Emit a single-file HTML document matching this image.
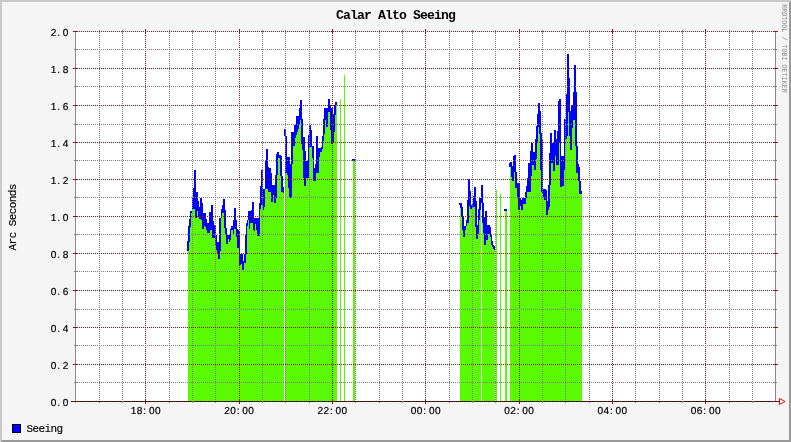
<!DOCTYPE html>
<html><head><meta charset="utf-8"><title>Calar Alto Seeing</title>
<style>
html,body{margin:0;padding:0;background:#F5F5F5;}
body{width:791px;height:442px;overflow:hidden;font-family:"Liberation Mono",monospace;}
svg{display:block;will-change:transform;}
text{font-family:"Liberation Mono",monospace;}
</style></head><body>
<svg width="791" height="442" viewBox="0 0 791 442">
<rect x="0" y="0" width="791" height="442" fill="#F5F5F5"/>
<polygon points="0,0 791,0 789,2 2,2 2,440 0,442" fill="#C9C9C9" shape-rendering="crispEdges"/>
<polygon points="791,0 791,442 0,442 2,440 789,440 789,2" fill="#999999" shape-rendering="crispEdges"/>
<rect x="75" y="31" width="701" height="371" fill="#FFFFFF" shape-rendering="crispEdges"/>
<g shape-rendering="crispEdges">
<rect fill="#5AFA00" x="188" y="251" width="1" height="151"/>
<rect fill="#5AFA00" x="189" y="242" width="1" height="160"/>
<rect fill="#5AFA00" x="190" y="227" width="1" height="175"/>
<rect fill="#5AFA00" x="191" y="213" width="1" height="189"/>
<rect fill="#5AFA00" x="192" y="210" width="1" height="192"/>
<rect fill="#5AFA00" x="193" y="209" width="1" height="193"/>
<rect fill="#5AFA00" x="194" y="209" width="1" height="193"/>
<rect fill="#5AFA00" x="195" y="218" width="1" height="184"/>
<rect fill="#5AFA00" x="196" y="218" width="1" height="184"/>
<rect fill="#5AFA00" x="197" y="211" width="1" height="191"/>
<rect fill="#5AFA00" x="198" y="217" width="1" height="185"/>
<rect fill="#5AFA00" x="199" y="219" width="1" height="183"/>
<rect fill="#5AFA00" x="200" y="219" width="1" height="183"/>
<rect fill="#5AFA00" x="201" y="220" width="1" height="182"/>
<rect fill="#5AFA00" x="202" y="229" width="1" height="173"/>
<rect fill="#5AFA00" x="203" y="229" width="1" height="173"/>
<rect fill="#5AFA00" x="204" y="226" width="1" height="176"/>
<rect fill="#5AFA00" x="205" y="227" width="1" height="175"/>
<rect fill="#5AFA00" x="206" y="230" width="1" height="172"/>
<rect fill="#5AFA00" x="207" y="233" width="1" height="169"/>
<rect fill="#5AFA00" x="208" y="233" width="1" height="169"/>
<rect fill="#5AFA00" x="209" y="233" width="1" height="169"/>
<rect fill="#5AFA00" x="210" y="230" width="1" height="172"/>
<rect fill="#5AFA00" x="211" y="230" width="1" height="172"/>
<rect fill="#5AFA00" x="212" y="238" width="1" height="164"/>
<rect fill="#5AFA00" x="213" y="238" width="1" height="164"/>
<rect fill="#5AFA00" x="214" y="238" width="1" height="164"/>
<rect fill="#5AFA00" x="215" y="246" width="1" height="156"/>
<rect fill="#5AFA00" x="216" y="250" width="1" height="152"/>
<rect fill="#5AFA00" x="217" y="253" width="1" height="149"/>
<rect fill="#5AFA00" x="218" y="259" width="1" height="143"/>
<rect fill="#5AFA00" x="219" y="259" width="1" height="143"/>
<rect fill="#5AFA00" x="220" y="251" width="1" height="151"/>
<rect fill="#5AFA00" x="221" y="218" width="1" height="184"/>
<rect fill="#5AFA00" x="222" y="213" width="1" height="189"/>
<rect fill="#5AFA00" x="223" y="213" width="1" height="189"/>
<rect fill="#5AFA00" x="224" y="228" width="1" height="174"/>
<rect fill="#5AFA00" x="225" y="235" width="1" height="167"/>
<rect fill="#5AFA00" x="226" y="244" width="1" height="158"/>
<rect fill="#5AFA00" x="227" y="244" width="1" height="158"/>
<rect fill="#5AFA00" x="228" y="239" width="1" height="163"/>
<rect fill="#5AFA00" x="229" y="242" width="1" height="160"/>
<rect fill="#5AFA00" x="230" y="240" width="1" height="162"/>
<rect fill="#5AFA00" x="231" y="230" width="1" height="172"/>
<rect fill="#5AFA00" x="232" y="230" width="1" height="172"/>
<rect fill="#5AFA00" x="233" y="234" width="1" height="168"/>
<rect fill="#5AFA00" x="234" y="229" width="1" height="173"/>
<rect fill="#5AFA00" x="235" y="229" width="1" height="173"/>
<rect fill="#5AFA00" x="236" y="237" width="1" height="165"/>
<rect fill="#5AFA00" x="237" y="248" width="1" height="154"/>
<rect fill="#5AFA00" x="238" y="248" width="1" height="154"/>
<rect fill="#5AFA00" x="239" y="265" width="1" height="137"/>
<rect fill="#5AFA00" x="240" y="265" width="1" height="137"/>
<rect fill="#5AFA00" x="241" y="264" width="1" height="138"/>
<rect fill="#5AFA00" x="242" y="270" width="1" height="132"/>
<rect fill="#5AFA00" x="243" y="270" width="1" height="132"/>
<rect fill="#5AFA00" x="244" y="263" width="1" height="139"/>
<rect fill="#5AFA00" x="245" y="263" width="1" height="139"/>
<rect fill="#5AFA00" x="246" y="254" width="1" height="148"/>
<rect fill="#5AFA00" x="247" y="226" width="1" height="176"/>
<rect fill="#5AFA00" x="248" y="220" width="1" height="182"/>
<rect fill="#5AFA00" x="249" y="229" width="1" height="173"/>
<rect fill="#5AFA00" x="250" y="223" width="1" height="179"/>
<rect fill="#5AFA00" x="251" y="223" width="1" height="179"/>
<rect fill="#5AFA00" x="252" y="223" width="1" height="179"/>
<rect fill="#5AFA00" x="253" y="230" width="1" height="172"/>
<rect fill="#5AFA00" x="254" y="231" width="1" height="171"/>
<rect fill="#5AFA00" x="255" y="224" width="1" height="178"/>
<rect fill="#5AFA00" x="256" y="230" width="1" height="172"/>
<rect fill="#5AFA00" x="257" y="236" width="1" height="166"/>
<rect fill="#5AFA00" x="258" y="236" width="1" height="166"/>
<rect fill="#5AFA00" x="259" y="236" width="1" height="166"/>
<rect fill="#5AFA00" x="260" y="209" width="1" height="193"/>
<rect fill="#5AFA00" x="261" y="205" width="1" height="197"/>
<rect fill="#5AFA00" x="262" y="205" width="1" height="197"/>
<rect fill="#5AFA00" x="263" y="210" width="1" height="192"/>
<rect fill="#5AFA00" x="264" y="207" width="1" height="195"/>
<rect fill="#5AFA00" x="265" y="189" width="1" height="213"/>
<rect fill="#5AFA00" x="266" y="189" width="1" height="213"/>
<rect fill="#5AFA00" x="267" y="189" width="1" height="213"/>
<rect fill="#5AFA00" x="268" y="192" width="1" height="210"/>
<rect fill="#5AFA00" x="269" y="192" width="1" height="210"/>
<rect fill="#5AFA00" x="270" y="192" width="1" height="210"/>
<rect fill="#5AFA00" x="271" y="202" width="1" height="200"/>
<rect fill="#5AFA00" x="272" y="202" width="1" height="200"/>
<rect fill="#5AFA00" x="273" y="195" width="1" height="207"/>
<rect fill="#5AFA00" x="274" y="203" width="1" height="199"/>
<rect fill="#5AFA00" x="275" y="203" width="1" height="199"/>
<rect fill="#5AFA00" x="276" y="198" width="1" height="204"/>
<rect fill="#5AFA00" x="277" y="175" width="1" height="227"/>
<rect fill="#5AFA00" x="278" y="158" width="1" height="244"/>
<rect fill="#5AFA00" x="279" y="158" width="1" height="244"/>
<rect fill="#5AFA00" x="280" y="176" width="1" height="226"/>
<rect fill="#5AFA00" x="281" y="192" width="1" height="210"/>
<rect fill="#5AFA00" x="282" y="192" width="1" height="210"/>
<rect fill="#5AFA00" x="283" y="193" width="1" height="209"/>
<rect fill="#5AFA00" x="285" y="173" width="1" height="229"/>
<rect fill="#5AFA00" x="286" y="173" width="1" height="229"/>
<rect fill="#5AFA00" x="287" y="175" width="1" height="227"/>
<rect fill="#5AFA00" x="288" y="188" width="1" height="214"/>
<rect fill="#5AFA00" x="289" y="198" width="1" height="204"/>
<rect fill="#5AFA00" x="290" y="198" width="1" height="204"/>
<rect fill="#5AFA00" x="291" y="198" width="1" height="204"/>
<rect fill="#5AFA00" x="292" y="164" width="1" height="238"/>
<rect fill="#5AFA00" x="293" y="146" width="1" height="256"/>
<rect fill="#5AFA00" x="294" y="146" width="1" height="256"/>
<rect fill="#5AFA00" x="295" y="138" width="1" height="264"/>
<rect fill="#5AFA00" x="296" y="135" width="1" height="267"/>
<rect fill="#5AFA00" x="297" y="132" width="1" height="270"/>
<rect fill="#5AFA00" x="298" y="129" width="1" height="273"/>
<rect fill="#5AFA00" x="299" y="125" width="1" height="277"/>
<rect fill="#5AFA00" x="300" y="120" width="1" height="282"/>
<rect fill="#5AFA00" x="301" y="144" width="1" height="258"/>
<rect fill="#5AFA00" x="302" y="150" width="1" height="252"/>
<rect fill="#5AFA00" x="303" y="178" width="1" height="224"/>
<rect fill="#5AFA00" x="304" y="186" width="1" height="216"/>
<rect fill="#5AFA00" x="305" y="186" width="1" height="216"/>
<rect fill="#5AFA00" x="306" y="178" width="1" height="224"/>
<rect fill="#5AFA00" x="307" y="178" width="1" height="224"/>
<rect fill="#5AFA00" x="308" y="178" width="1" height="224"/>
<rect fill="#5AFA00" x="309" y="147" width="1" height="255"/>
<rect fill="#5AFA00" x="310" y="147" width="1" height="255"/>
<rect fill="#5AFA00" x="311" y="147" width="1" height="255"/>
<rect fill="#5AFA00" x="312" y="158" width="1" height="244"/>
<rect fill="#5AFA00" x="313" y="181" width="1" height="221"/>
<rect fill="#5AFA00" x="314" y="181" width="1" height="221"/>
<rect fill="#5AFA00" x="315" y="181" width="1" height="221"/>
<rect fill="#5AFA00" x="316" y="173" width="1" height="229"/>
<rect fill="#5AFA00" x="317" y="173" width="1" height="229"/>
<rect fill="#5AFA00" x="318" y="173" width="1" height="229"/>
<rect fill="#5AFA00" x="319" y="157" width="1" height="245"/>
<rect fill="#5AFA00" x="320" y="152" width="1" height="250"/>
<rect fill="#5AFA00" x="321" y="152" width="1" height="250"/>
<rect fill="#5AFA00" x="322" y="149" width="1" height="253"/>
<rect fill="#5AFA00" x="323" y="141" width="1" height="261"/>
<rect fill="#5AFA00" x="324" y="134" width="1" height="268"/>
<rect fill="#5AFA00" x="325" y="120" width="1" height="282"/>
<rect fill="#5AFA00" x="326" y="127" width="1" height="275"/>
<rect fill="#5AFA00" x="327" y="127" width="1" height="275"/>
<rect fill="#5AFA00" x="328" y="112" width="1" height="290"/>
<rect fill="#5AFA00" x="329" y="112" width="1" height="290"/>
<rect fill="#5AFA00" x="330" y="130" width="1" height="272"/>
<rect fill="#5AFA00" x="331" y="144" width="1" height="258"/>
<rect fill="#5AFA00" x="332" y="143" width="1" height="259"/>
<rect fill="#5AFA00" x="333" y="142" width="1" height="260"/>
<rect fill="#5AFA00" x="334" y="132" width="1" height="270"/>
<rect fill="#5AFA00" x="335" y="115" width="1" height="287"/>
<rect fill="#5AFA00" x="336" y="105" width="1" height="297"/>
<rect fill="#5AFA00" x="353" y="161" width="1" height="241"/>
<rect fill="#5AFA00" x="354" y="161" width="1" height="241"/>
<rect fill="#5AFA00" x="460" y="208" width="1" height="194"/>
<rect fill="#5AFA00" x="461" y="217" width="1" height="185"/>
<rect fill="#5AFA00" x="462" y="230" width="1" height="172"/>
<rect fill="#5AFA00" x="463" y="237" width="1" height="165"/>
<rect fill="#5AFA00" x="464" y="237" width="1" height="165"/>
<rect fill="#5AFA00" x="465" y="230" width="1" height="172"/>
<rect fill="#5AFA00" x="466" y="226" width="1" height="176"/>
<rect fill="#5AFA00" x="467" y="223" width="1" height="179"/>
<rect fill="#5AFA00" x="468" y="223" width="1" height="179"/>
<rect fill="#5AFA00" x="469" y="206" width="1" height="196"/>
<rect fill="#5AFA00" x="470" y="209" width="1" height="193"/>
<rect fill="#5AFA00" x="471" y="209" width="1" height="193"/>
<rect fill="#5AFA00" x="472" y="207" width="1" height="195"/>
<rect fill="#5AFA00" x="473" y="207" width="1" height="195"/>
<rect fill="#5AFA00" x="474" y="207" width="1" height="195"/>
<rect fill="#5AFA00" x="475" y="227" width="1" height="175"/>
<rect fill="#5AFA00" x="476" y="239" width="1" height="163"/>
<rect fill="#5AFA00" x="477" y="239" width="1" height="163"/>
<rect fill="#5AFA00" x="478" y="234" width="1" height="168"/>
<rect fill="#5AFA00" x="479" y="220" width="1" height="182"/>
<rect fill="#5AFA00" x="480" y="210" width="1" height="192"/>
<rect fill="#5AFA00" x="482" y="223" width="1" height="179"/>
<rect fill="#5AFA00" x="483" y="233" width="1" height="169"/>
<rect fill="#5AFA00" x="484" y="245" width="1" height="157"/>
<rect fill="#5AFA00" x="485" y="245" width="1" height="157"/>
<rect fill="#5AFA00" x="486" y="240" width="1" height="162"/>
<rect fill="#5AFA00" x="487" y="240" width="1" height="162"/>
<rect fill="#5AFA00" x="488" y="234" width="1" height="168"/>
<rect fill="#5AFA00" x="489" y="234" width="1" height="168"/>
<rect fill="#5AFA00" x="490" y="237" width="1" height="165"/>
<rect fill="#5AFA00" x="491" y="245" width="1" height="157"/>
<rect fill="#5AFA00" x="492" y="247" width="1" height="155"/>
<rect fill="#5AFA00" x="493" y="249" width="1" height="153"/>
<rect fill="#5AFA00" x="494" y="250" width="1" height="152"/>
<rect fill="#5AFA00" x="505" y="211" width="1" height="191"/>
<rect fill="#5AFA00" x="506" y="211" width="1" height="191"/>
<rect fill="#5AFA00" x="510" y="167" width="1" height="235"/>
<rect fill="#5AFA00" x="511" y="177" width="1" height="225"/>
<rect fill="#5AFA00" x="512" y="181" width="1" height="221"/>
<rect fill="#5AFA00" x="513" y="181" width="1" height="221"/>
<rect fill="#5AFA00" x="514" y="172" width="1" height="230"/>
<rect fill="#5AFA00" x="515" y="188" width="1" height="214"/>
<rect fill="#5AFA00" x="516" y="188" width="1" height="214"/>
<rect fill="#5AFA00" x="517" y="197" width="1" height="205"/>
<rect fill="#5AFA00" x="518" y="210" width="1" height="192"/>
<rect fill="#5AFA00" x="519" y="210" width="1" height="192"/>
<rect fill="#5AFA00" x="520" y="206" width="1" height="196"/>
<rect fill="#5AFA00" x="521" y="210" width="1" height="192"/>
<rect fill="#5AFA00" x="522" y="210" width="1" height="192"/>
<rect fill="#5AFA00" x="523" y="204" width="1" height="198"/>
<rect fill="#5AFA00" x="524" y="204" width="1" height="198"/>
<rect fill="#5AFA00" x="525" y="204" width="1" height="198"/>
<rect fill="#5AFA00" x="526" y="198" width="1" height="204"/>
<rect fill="#5AFA00" x="527" y="192" width="1" height="210"/>
<rect fill="#5AFA00" x="528" y="192" width="1" height="210"/>
<rect fill="#5AFA00" x="529" y="192" width="1" height="210"/>
<rect fill="#5AFA00" x="530" y="192" width="1" height="210"/>
<rect fill="#5AFA00" x="531" y="176" width="1" height="226"/>
<rect fill="#5AFA00" x="532" y="165" width="1" height="237"/>
<rect fill="#5AFA00" x="533" y="165" width="1" height="237"/>
<rect fill="#5AFA00" x="534" y="170" width="1" height="232"/>
<rect fill="#5AFA00" x="535" y="170" width="1" height="232"/>
<rect fill="#5AFA00" x="536" y="159" width="1" height="243"/>
<rect fill="#5AFA00" x="537" y="142" width="1" height="260"/>
<rect fill="#5AFA00" x="538" y="127" width="1" height="275"/>
<rect fill="#5AFA00" x="539" y="134" width="1" height="268"/>
<rect fill="#5AFA00" x="540" y="170" width="1" height="232"/>
<rect fill="#5AFA00" x="541" y="192" width="1" height="210"/>
<rect fill="#5AFA00" x="542" y="193" width="1" height="209"/>
<rect fill="#5AFA00" x="543" y="197" width="1" height="205"/>
<rect fill="#5AFA00" x="544" y="200" width="1" height="202"/>
<rect fill="#5AFA00" x="545" y="200" width="1" height="202"/>
<rect fill="#5AFA00" x="546" y="215" width="1" height="187"/>
<rect fill="#5AFA00" x="547" y="215" width="1" height="187"/>
<rect fill="#5AFA00" x="548" y="210" width="1" height="192"/>
<rect fill="#5AFA00" x="549" y="207" width="1" height="195"/>
<rect fill="#5AFA00" x="550" y="185" width="1" height="217"/>
<rect fill="#5AFA00" x="551" y="163" width="1" height="239"/>
<rect fill="#5AFA00" x="552" y="163" width="1" height="239"/>
<rect fill="#5AFA00" x="553" y="171" width="1" height="231"/>
<rect fill="#5AFA00" x="554" y="171" width="1" height="231"/>
<rect fill="#5AFA00" x="555" y="156" width="1" height="246"/>
<rect fill="#5AFA00" x="556" y="165" width="1" height="237"/>
<rect fill="#5AFA00" x="557" y="165" width="1" height="237"/>
<rect fill="#5AFA00" x="558" y="165" width="1" height="237"/>
<rect fill="#5AFA00" x="559" y="143" width="1" height="259"/>
<rect fill="#5AFA00" x="560" y="187" width="1" height="215"/>
<rect fill="#5AFA00" x="561" y="187" width="1" height="215"/>
<rect fill="#5AFA00" x="562" y="186" width="1" height="216"/>
<rect fill="#5AFA00" x="563" y="186" width="1" height="216"/>
<rect fill="#5AFA00" x="564" y="170" width="1" height="232"/>
<rect fill="#5AFA00" x="565" y="139" width="1" height="263"/>
<rect fill="#5AFA00" x="566" y="139" width="1" height="263"/>
<rect fill="#5AFA00" x="567" y="136" width="1" height="266"/>
<rect fill="#5AFA00" x="568" y="112" width="1" height="290"/>
<rect fill="#5AFA00" x="569" y="136" width="1" height="266"/>
<rect fill="#5AFA00" x="570" y="150" width="1" height="252"/>
<rect fill="#5AFA00" x="571" y="150" width="1" height="252"/>
<rect fill="#5AFA00" x="572" y="128" width="1" height="274"/>
<rect fill="#5AFA00" x="573" y="120" width="1" height="282"/>
<rect fill="#5AFA00" x="574" y="120" width="1" height="282"/>
<rect fill="#5AFA00" x="575" y="146" width="1" height="256"/>
<rect fill="#5AFA00" x="576" y="173" width="1" height="229"/>
<rect fill="#5AFA00" x="577" y="173" width="1" height="229"/>
<rect fill="#5AFA00" x="578" y="181" width="1" height="221"/>
<rect fill="#5AFA00" x="579" y="194" width="1" height="208"/>
<rect fill="#5AFA00" x="580" y="194" width="1" height="208"/>
<rect fill="#5AFA00" x="581" y="194" width="1" height="208"/>
<rect fill="#5AFA00" x="340" y="99" width="1" height="303"/>
<rect fill="#5AFA00" x="344" y="75" width="1" height="327"/>
<rect fill="#5AFA00" x="496" y="190" width="1" height="212"/>
<rect fill="#5AFA00" x="500" y="194" width="1" height="208"/>
<rect fill="#0000FF" x="187" y="241" width="1" height="10"/>
<rect fill="#0000FF" x="188" y="226" width="1" height="25"/>
<rect fill="#0000FF" x="189" y="219" width="1" height="23"/>
<rect fill="#0000FF" x="190" y="211" width="1" height="16"/>
<rect fill="#0000FF" x="191" y="211" width="1" height="2"/>
<rect fill="#0000FF" x="192" y="198" width="1" height="12"/>
<rect fill="#0000FF" x="193" y="188" width="1" height="21"/>
<rect fill="#0000FF" x="194" y="170" width="1" height="39"/>
<rect fill="#0000FF" x="195" y="170" width="1" height="48"/>
<rect fill="#0000FF" x="196" y="192" width="1" height="26"/>
<rect fill="#0000FF" x="197" y="192" width="1" height="19"/>
<rect fill="#0000FF" x="198" y="201" width="1" height="16"/>
<rect fill="#0000FF" x="199" y="207" width="1" height="12"/>
<rect fill="#0000FF" x="200" y="198" width="1" height="21"/>
<rect fill="#0000FF" x="201" y="198" width="1" height="22"/>
<rect fill="#0000FF" x="202" y="203" width="1" height="26"/>
<rect fill="#0000FF" x="203" y="213" width="1" height="16"/>
<rect fill="#0000FF" x="204" y="213" width="1" height="13"/>
<rect fill="#0000FF" x="205" y="213" width="1" height="14"/>
<rect fill="#0000FF" x="206" y="219" width="1" height="11"/>
<rect fill="#0000FF" x="207" y="223" width="1" height="10"/>
<rect fill="#0000FF" x="208" y="223" width="1" height="10"/>
<rect fill="#0000FF" x="209" y="212" width="1" height="21"/>
<rect fill="#0000FF" x="210" y="212" width="1" height="18"/>
<rect fill="#0000FF" x="211" y="205" width="1" height="25"/>
<rect fill="#0000FF" x="212" y="205" width="1" height="33"/>
<rect fill="#0000FF" x="213" y="221" width="1" height="17"/>
<rect fill="#0000FF" x="214" y="225" width="1" height="13"/>
<rect fill="#0000FF" x="215" y="225" width="1" height="21"/>
<rect fill="#0000FF" x="216" y="235" width="1" height="15"/>
<rect fill="#0000FF" x="217" y="242" width="1" height="11"/>
<rect fill="#0000FF" x="218" y="242" width="1" height="17"/>
<rect fill="#0000FF" x="219" y="218" width="1" height="41"/>
<rect fill="#0000FF" x="220" y="218" width="1" height="33"/>
<rect fill="#0000FF" x="221" y="209" width="1" height="9"/>
<rect fill="#0000FF" x="222" y="205" width="1" height="8"/>
<rect fill="#0000FF" x="223" y="199" width="1" height="14"/>
<rect fill="#0000FF" x="224" y="199" width="1" height="29"/>
<rect fill="#0000FF" x="225" y="210" width="1" height="25"/>
<rect fill="#0000FF" x="226" y="228" width="1" height="16"/>
<rect fill="#0000FF" x="227" y="235" width="1" height="9"/>
<rect fill="#0000FF" x="228" y="235" width="1" height="4"/>
<rect fill="#0000FF" x="229" y="235" width="1" height="7"/>
<rect fill="#0000FF" x="230" y="229" width="1" height="11"/>
<rect fill="#0000FF" x="231" y="226" width="1" height="4"/>
<rect fill="#0000FF" x="232" y="226" width="1" height="4"/>
<rect fill="#0000FF" x="233" y="220" width="1" height="14"/>
<rect fill="#0000FF" x="234" y="208" width="1" height="21"/>
<rect fill="#0000FF" x="235" y="208" width="1" height="21"/>
<rect fill="#0000FF" x="236" y="220" width="1" height="17"/>
<rect fill="#0000FF" x="237" y="229" width="1" height="19"/>
<rect fill="#0000FF" x="238" y="230" width="1" height="18"/>
<rect fill="#0000FF" x="239" y="232" width="1" height="33"/>
<rect fill="#0000FF" x="240" y="254" width="1" height="11"/>
<rect fill="#0000FF" x="241" y="254" width="1" height="10"/>
<rect fill="#0000FF" x="242" y="254" width="1" height="16"/>
<rect fill="#0000FF" x="243" y="261" width="1" height="9"/>
<rect fill="#0000FF" x="244" y="254" width="1" height="9"/>
<rect fill="#0000FF" x="245" y="235" width="1" height="28"/>
<rect fill="#0000FF" x="246" y="223" width="1" height="31"/>
<rect fill="#0000FF" x="247" y="220" width="1" height="6"/>
<rect fill="#0000FF" x="248" y="211" width="1" height="9"/>
<rect fill="#0000FF" x="249" y="211" width="1" height="18"/>
<rect fill="#0000FF" x="250" y="211" width="1" height="12"/>
<rect fill="#0000FF" x="251" y="210" width="1" height="13"/>
<rect fill="#0000FF" x="252" y="202" width="1" height="21"/>
<rect fill="#0000FF" x="253" y="202" width="1" height="28"/>
<rect fill="#0000FF" x="254" y="218" width="1" height="13"/>
<rect fill="#0000FF" x="255" y="218" width="1" height="6"/>
<rect fill="#0000FF" x="256" y="218" width="1" height="12"/>
<rect fill="#0000FF" x="257" y="218" width="1" height="18"/>
<rect fill="#0000FF" x="258" y="218" width="1" height="18"/>
<rect fill="#0000FF" x="259" y="203" width="1" height="33"/>
<rect fill="#0000FF" x="260" y="186" width="1" height="23"/>
<rect fill="#0000FF" x="261" y="170" width="1" height="35"/>
<rect fill="#0000FF" x="262" y="170" width="1" height="35"/>
<rect fill="#0000FF" x="263" y="189" width="1" height="21"/>
<rect fill="#0000FF" x="264" y="189" width="1" height="18"/>
<rect fill="#0000FF" x="265" y="161" width="1" height="28"/>
<rect fill="#0000FF" x="266" y="149" width="1" height="40"/>
<rect fill="#0000FF" x="267" y="149" width="1" height="40"/>
<rect fill="#0000FF" x="268" y="167" width="1" height="25"/>
<rect fill="#0000FF" x="269" y="168" width="1" height="24"/>
<rect fill="#0000FF" x="270" y="168" width="1" height="24"/>
<rect fill="#0000FF" x="271" y="173" width="1" height="29"/>
<rect fill="#0000FF" x="272" y="185" width="1" height="17"/>
<rect fill="#0000FF" x="273" y="185" width="1" height="10"/>
<rect fill="#0000FF" x="274" y="185" width="1" height="18"/>
<rect fill="#0000FF" x="275" y="175" width="1" height="28"/>
<rect fill="#0000FF" x="276" y="154" width="1" height="44"/>
<rect fill="#0000FF" x="277" y="152" width="1" height="23"/>
<rect fill="#0000FF" x="278" y="152" width="1" height="6"/>
<rect fill="#0000FF" x="279" y="155" width="1" height="3"/>
<rect fill="#0000FF" x="280" y="155" width="1" height="21"/>
<rect fill="#0000FF" x="281" y="156" width="1" height="36"/>
<rect fill="#0000FF" x="282" y="176" width="1" height="16"/>
<rect fill="#0000FF" x="283" y="187" width="1" height="6"/>
<rect fill="#0000FF" x="284" y="129" width="1" height="7"/>
<rect fill="#0000FF" x="285" y="129" width="1" height="44"/>
<rect fill="#0000FF" x="286" y="136" width="1" height="37"/>
<rect fill="#0000FF" x="287" y="157" width="1" height="18"/>
<rect fill="#0000FF" x="288" y="157" width="1" height="31"/>
<rect fill="#0000FF" x="289" y="157" width="1" height="41"/>
<rect fill="#0000FF" x="290" y="164" width="1" height="34"/>
<rect fill="#0000FF" x="291" y="132" width="1" height="66"/>
<rect fill="#0000FF" x="292" y="132" width="1" height="32"/>
<rect fill="#0000FF" x="293" y="132" width="1" height="14"/>
<rect fill="#0000FF" x="294" y="125" width="1" height="21"/>
<rect fill="#0000FF" x="295" y="125" width="1" height="13"/>
<rect fill="#0000FF" x="296" y="116" width="1" height="19"/>
<rect fill="#0000FF" x="297" y="116" width="1" height="16"/>
<rect fill="#0000FF" x="298" y="116" width="1" height="13"/>
<rect fill="#0000FF" x="299" y="108" width="1" height="17"/>
<rect fill="#0000FF" x="300" y="100" width="1" height="20"/>
<rect fill="#0000FF" x="301" y="100" width="1" height="44"/>
<rect fill="#0000FF" x="302" y="119" width="1" height="31"/>
<rect fill="#0000FF" x="303" y="137" width="1" height="41"/>
<rect fill="#0000FF" x="304" y="137" width="1" height="49"/>
<rect fill="#0000FF" x="305" y="151" width="1" height="35"/>
<rect fill="#0000FF" x="306" y="161" width="1" height="17"/>
<rect fill="#0000FF" x="307" y="161" width="1" height="17"/>
<rect fill="#0000FF" x="308" y="135" width="1" height="43"/>
<rect fill="#0000FF" x="309" y="125" width="1" height="22"/>
<rect fill="#0000FF" x="310" y="125" width="1" height="22"/>
<rect fill="#0000FF" x="311" y="130" width="1" height="17"/>
<rect fill="#0000FF" x="312" y="146" width="1" height="12"/>
<rect fill="#0000FF" x="313" y="146" width="1" height="35"/>
<rect fill="#0000FF" x="314" y="168" width="1" height="13"/>
<rect fill="#0000FF" x="315" y="164" width="1" height="17"/>
<rect fill="#0000FF" x="316" y="136" width="1" height="37"/>
<rect fill="#0000FF" x="317" y="136" width="1" height="37"/>
<rect fill="#0000FF" x="318" y="148" width="1" height="25"/>
<rect fill="#0000FF" x="319" y="148" width="1" height="9"/>
<rect fill="#0000FF" x="320" y="148" width="1" height="4"/>
<rect fill="#0000FF" x="321" y="147" width="1" height="5"/>
<rect fill="#0000FF" x="322" y="136" width="1" height="13"/>
<rect fill="#0000FF" x="323" y="119" width="1" height="22"/>
<rect fill="#0000FF" x="324" y="108" width="1" height="26"/>
<rect fill="#0000FF" x="325" y="108" width="1" height="12"/>
<rect fill="#0000FF" x="326" y="108" width="1" height="19"/>
<rect fill="#0000FF" x="327" y="108" width="1" height="19"/>
<rect fill="#0000FF" x="328" y="99" width="1" height="13"/>
<rect fill="#0000FF" x="329" y="99" width="1" height="13"/>
<rect fill="#0000FF" x="330" y="105" width="1" height="25"/>
<rect fill="#0000FF" x="331" y="108" width="1" height="36"/>
<rect fill="#0000FF" x="332" y="108" width="1" height="35"/>
<rect fill="#0000FF" x="333" y="114" width="1" height="28"/>
<rect fill="#0000FF" x="334" y="105" width="1" height="27"/>
<rect fill="#0000FF" x="335" y="102" width="1" height="13"/>
<rect fill="#0000FF" x="336" y="102" width="1" height="3"/>
<rect fill="#0000FF" x="352" y="159" width="1" height="2"/>
<rect fill="#0000FF" x="353" y="159" width="1" height="2"/>
<rect fill="#0000FF" x="354" y="159" width="1" height="2"/>
<rect fill="#0000FF" x="459" y="203" width="1" height="2"/>
<rect fill="#0000FF" x="460" y="203" width="1" height="5"/>
<rect fill="#0000FF" x="461" y="203" width="1" height="14"/>
<rect fill="#0000FF" x="462" y="207" width="1" height="23"/>
<rect fill="#0000FF" x="463" y="217" width="1" height="20"/>
<rect fill="#0000FF" x="464" y="226" width="1" height="11"/>
<rect fill="#0000FF" x="465" y="226" width="1" height="4"/>
<rect fill="#0000FF" x="466" y="220" width="1" height="6"/>
<rect fill="#0000FF" x="467" y="200" width="1" height="23"/>
<rect fill="#0000FF" x="468" y="179" width="1" height="44"/>
<rect fill="#0000FF" x="469" y="179" width="1" height="27"/>
<rect fill="#0000FF" x="470" y="191" width="1" height="18"/>
<rect fill="#0000FF" x="471" y="205" width="1" height="4"/>
<rect fill="#0000FF" x="472" y="203" width="1" height="4"/>
<rect fill="#0000FF" x="473" y="196" width="1" height="11"/>
<rect fill="#0000FF" x="474" y="187" width="1" height="20"/>
<rect fill="#0000FF" x="475" y="187" width="1" height="40"/>
<rect fill="#0000FF" x="476" y="201" width="1" height="38"/>
<rect fill="#0000FF" x="477" y="225" width="1" height="14"/>
<rect fill="#0000FF" x="478" y="209" width="1" height="25"/>
<rect fill="#0000FF" x="479" y="198" width="1" height="22"/>
<rect fill="#0000FF" x="480" y="198" width="1" height="12"/>
<rect fill="#0000FF" x="481" y="185" width="1" height="18"/>
<rect fill="#0000FF" x="482" y="185" width="1" height="38"/>
<rect fill="#0000FF" x="483" y="203" width="1" height="30"/>
<rect fill="#0000FF" x="484" y="217" width="1" height="28"/>
<rect fill="#0000FF" x="485" y="211" width="1" height="34"/>
<rect fill="#0000FF" x="486" y="211" width="1" height="29"/>
<rect fill="#0000FF" x="487" y="225" width="1" height="15"/>
<rect fill="#0000FF" x="488" y="225" width="1" height="9"/>
<rect fill="#0000FF" x="489" y="225" width="1" height="9"/>
<rect fill="#0000FF" x="490" y="227" width="1" height="10"/>
<rect fill="#0000FF" x="491" y="235" width="1" height="10"/>
<rect fill="#0000FF" x="492" y="241" width="1" height="6"/>
<rect fill="#0000FF" x="493" y="245" width="1" height="4"/>
<rect fill="#0000FF" x="494" y="246" width="1" height="4"/>
<rect fill="#0000FF" x="504" y="209" width="1" height="2"/>
<rect fill="#0000FF" x="505" y="209" width="1" height="2"/>
<rect fill="#0000FF" x="506" y="209" width="1" height="2"/>
<rect fill="#0000FF" x="509" y="163" width="1" height="4"/>
<rect fill="#0000FF" x="510" y="162" width="1" height="5"/>
<rect fill="#0000FF" x="511" y="162" width="1" height="15"/>
<rect fill="#0000FF" x="512" y="166" width="1" height="15"/>
<rect fill="#0000FF" x="513" y="156" width="1" height="25"/>
<rect fill="#0000FF" x="514" y="155" width="1" height="17"/>
<rect fill="#0000FF" x="515" y="155" width="1" height="33"/>
<rect fill="#0000FF" x="516" y="172" width="1" height="16"/>
<rect fill="#0000FF" x="517" y="183" width="1" height="14"/>
<rect fill="#0000FF" x="518" y="183" width="1" height="27"/>
<rect fill="#0000FF" x="519" y="183" width="1" height="27"/>
<rect fill="#0000FF" x="520" y="198" width="1" height="8"/>
<rect fill="#0000FF" x="521" y="200" width="1" height="10"/>
<rect fill="#0000FF" x="522" y="198" width="1" height="12"/>
<rect fill="#0000FF" x="523" y="198" width="1" height="6"/>
<rect fill="#0000FF" x="524" y="198" width="1" height="6"/>
<rect fill="#0000FF" x="525" y="192" width="1" height="12"/>
<rect fill="#0000FF" x="526" y="186" width="1" height="12"/>
<rect fill="#0000FF" x="527" y="178" width="1" height="14"/>
<rect fill="#0000FF" x="528" y="163" width="1" height="29"/>
<rect fill="#0000FF" x="529" y="163" width="1" height="29"/>
<rect fill="#0000FF" x="530" y="151" width="1" height="41"/>
<rect fill="#0000FF" x="531" y="143" width="1" height="33"/>
<rect fill="#0000FF" x="532" y="143" width="1" height="22"/>
<rect fill="#0000FF" x="533" y="152" width="1" height="13"/>
<rect fill="#0000FF" x="534" y="152" width="1" height="18"/>
<rect fill="#0000FF" x="535" y="139" width="1" height="31"/>
<rect fill="#0000FF" x="536" y="126" width="1" height="33"/>
<rect fill="#0000FF" x="537" y="114" width="1" height="28"/>
<rect fill="#0000FF" x="538" y="103" width="1" height="24"/>
<rect fill="#0000FF" x="539" y="103" width="1" height="31"/>
<rect fill="#0000FF" x="540" y="111" width="1" height="59"/>
<rect fill="#0000FF" x="541" y="133" width="1" height="59"/>
<rect fill="#0000FF" x="542" y="140" width="1" height="53"/>
<rect fill="#0000FF" x="543" y="189" width="1" height="8"/>
<rect fill="#0000FF" x="544" y="189" width="1" height="11"/>
<rect fill="#0000FF" x="545" y="189" width="1" height="11"/>
<rect fill="#0000FF" x="546" y="190" width="1" height="25"/>
<rect fill="#0000FF" x="547" y="201" width="1" height="14"/>
<rect fill="#0000FF" x="548" y="185" width="1" height="25"/>
<rect fill="#0000FF" x="549" y="153" width="1" height="54"/>
<rect fill="#0000FF" x="550" y="133" width="1" height="52"/>
<rect fill="#0000FF" x="551" y="133" width="1" height="30"/>
<rect fill="#0000FF" x="552" y="143" width="1" height="20"/>
<rect fill="#0000FF" x="553" y="143" width="1" height="28"/>
<rect fill="#0000FF" x="554" y="130" width="1" height="41"/>
<rect fill="#0000FF" x="555" y="130" width="1" height="26"/>
<rect fill="#0000FF" x="556" y="139" width="1" height="26"/>
<rect fill="#0000FF" x="557" y="131" width="1" height="34"/>
<rect fill="#0000FF" x="558" y="101" width="1" height="64"/>
<rect fill="#0000FF" x="559" y="99" width="1" height="44"/>
<rect fill="#0000FF" x="560" y="99" width="1" height="88"/>
<rect fill="#0000FF" x="561" y="156" width="1" height="31"/>
<rect fill="#0000FF" x="562" y="156" width="1" height="30"/>
<rect fill="#0000FF" x="563" y="156" width="1" height="30"/>
<rect fill="#0000FF" x="564" y="119" width="1" height="51"/>
<rect fill="#0000FF" x="565" y="119" width="1" height="20"/>
<rect fill="#0000FF" x="566" y="94" width="1" height="45"/>
<rect fill="#0000FF" x="567" y="54" width="1" height="82"/>
<rect fill="#0000FF" x="568" y="54" width="1" height="58"/>
<rect fill="#0000FF" x="569" y="78" width="1" height="58"/>
<rect fill="#0000FF" x="570" y="111" width="1" height="39"/>
<rect fill="#0000FF" x="571" y="105" width="1" height="45"/>
<rect fill="#0000FF" x="572" y="105" width="1" height="23"/>
<rect fill="#0000FF" x="573" y="92" width="1" height="28"/>
<rect fill="#0000FF" x="574" y="65" width="1" height="55"/>
<rect fill="#0000FF" x="575" y="65" width="1" height="81"/>
<rect fill="#0000FF" x="576" y="92" width="1" height="81"/>
<rect fill="#0000FF" x="577" y="146" width="1" height="27"/>
<rect fill="#0000FF" x="578" y="164" width="1" height="17"/>
<rect fill="#0000FF" x="579" y="167" width="1" height="27"/>
<rect fill="#0000FF" x="580" y="181" width="1" height="13"/>
<rect fill="#0000FF" x="581" y="191" width="1" height="3"/>
</g>
<g shape-rendering="crispEdges" fill="none" stroke-width="1">
<line x1="75.5" y1="31" x2="75.5" y2="403" stroke="#8A8A8A"/>
<line x1="775.5" y1="31" x2="775.5" y2="402" stroke="#8A8A8A"/>
<line x1="71" y1="401.5" x2="779" y2="401.5" stroke="#000000"/>
<line x1="99.5" y1="31" x2="99.5" y2="402" stroke="#808080" stroke-dasharray="1 1"/>
<line x1="99.5" y1="30" x2="99.5" y2="33" stroke="#808080"/>
<line x1="99.5" y1="401" x2="99.5" y2="403" stroke="#808080"/>
<line x1="122.5" y1="31" x2="122.5" y2="402" stroke="#808080" stroke-dasharray="1 1"/>
<line x1="122.5" y1="30" x2="122.5" y2="33" stroke="#808080"/>
<line x1="122.5" y1="401" x2="122.5" y2="403" stroke="#808080"/>
<line x1="145.5" y1="31" x2="145.5" y2="402" stroke="#8E1414" stroke-dasharray="1 1"/>
<line x1="145.5" y1="29" x2="145.5" y2="33" stroke="#8E1414"/>
<line x1="145.5" y1="400" x2="145.5" y2="404" stroke="#8E1414"/>
<line x1="169.5" y1="31" x2="169.5" y2="402" stroke="#808080" stroke-dasharray="1 1"/>
<line x1="169.5" y1="30" x2="169.5" y2="33" stroke="#808080"/>
<line x1="169.5" y1="401" x2="169.5" y2="403" stroke="#808080"/>
<line x1="192.5" y1="31" x2="192.5" y2="402" stroke="#808080" stroke-dasharray="1 1"/>
<line x1="192.5" y1="30" x2="192.5" y2="33" stroke="#808080"/>
<line x1="192.5" y1="401" x2="192.5" y2="403" stroke="#808080"/>
<line x1="215.5" y1="31" x2="215.5" y2="402" stroke="#808080" stroke-dasharray="1 1"/>
<line x1="215.5" y1="30" x2="215.5" y2="33" stroke="#808080"/>
<line x1="215.5" y1="401" x2="215.5" y2="403" stroke="#808080"/>
<line x1="239.5" y1="31" x2="239.5" y2="402" stroke="#8E1414" stroke-dasharray="1 1"/>
<line x1="239.5" y1="29" x2="239.5" y2="33" stroke="#8E1414"/>
<line x1="239.5" y1="400" x2="239.5" y2="404" stroke="#8E1414"/>
<line x1="262.5" y1="31" x2="262.5" y2="402" stroke="#808080" stroke-dasharray="1 1"/>
<line x1="262.5" y1="30" x2="262.5" y2="33" stroke="#808080"/>
<line x1="262.5" y1="401" x2="262.5" y2="403" stroke="#808080"/>
<line x1="285.5" y1="31" x2="285.5" y2="402" stroke="#808080" stroke-dasharray="1 1"/>
<line x1="285.5" y1="30" x2="285.5" y2="33" stroke="#808080"/>
<line x1="285.5" y1="401" x2="285.5" y2="403" stroke="#808080"/>
<line x1="309.5" y1="31" x2="309.5" y2="402" stroke="#808080" stroke-dasharray="1 1"/>
<line x1="309.5" y1="30" x2="309.5" y2="33" stroke="#808080"/>
<line x1="309.5" y1="401" x2="309.5" y2="403" stroke="#808080"/>
<line x1="332.5" y1="31" x2="332.5" y2="402" stroke="#8E1414" stroke-dasharray="1 1"/>
<line x1="332.5" y1="29" x2="332.5" y2="33" stroke="#8E1414"/>
<line x1="332.5" y1="400" x2="332.5" y2="404" stroke="#8E1414"/>
<line x1="355.5" y1="31" x2="355.5" y2="402" stroke="#808080" stroke-dasharray="1 1"/>
<line x1="355.5" y1="30" x2="355.5" y2="33" stroke="#808080"/>
<line x1="355.5" y1="401" x2="355.5" y2="403" stroke="#808080"/>
<line x1="379.5" y1="31" x2="379.5" y2="402" stroke="#808080" stroke-dasharray="1 1"/>
<line x1="379.5" y1="30" x2="379.5" y2="33" stroke="#808080"/>
<line x1="379.5" y1="401" x2="379.5" y2="403" stroke="#808080"/>
<line x1="402.5" y1="31" x2="402.5" y2="402" stroke="#808080" stroke-dasharray="1 1"/>
<line x1="402.5" y1="30" x2="402.5" y2="33" stroke="#808080"/>
<line x1="402.5" y1="401" x2="402.5" y2="403" stroke="#808080"/>
<line x1="425.5" y1="31" x2="425.5" y2="402" stroke="#8E1414" stroke-dasharray="1 1"/>
<line x1="425.5" y1="29" x2="425.5" y2="33" stroke="#8E1414"/>
<line x1="425.5" y1="400" x2="425.5" y2="404" stroke="#8E1414"/>
<line x1="449.5" y1="31" x2="449.5" y2="402" stroke="#808080" stroke-dasharray="1 1"/>
<line x1="449.5" y1="30" x2="449.5" y2="33" stroke="#808080"/>
<line x1="449.5" y1="401" x2="449.5" y2="403" stroke="#808080"/>
<line x1="472.5" y1="31" x2="472.5" y2="402" stroke="#808080" stroke-dasharray="1 1"/>
<line x1="472.5" y1="30" x2="472.5" y2="33" stroke="#808080"/>
<line x1="472.5" y1="401" x2="472.5" y2="403" stroke="#808080"/>
<line x1="495.5" y1="31" x2="495.5" y2="402" stroke="#808080" stroke-dasharray="1 1"/>
<line x1="495.5" y1="30" x2="495.5" y2="33" stroke="#808080"/>
<line x1="495.5" y1="401" x2="495.5" y2="403" stroke="#808080"/>
<line x1="519.5" y1="31" x2="519.5" y2="402" stroke="#8E1414" stroke-dasharray="1 1"/>
<line x1="519.5" y1="29" x2="519.5" y2="33" stroke="#8E1414"/>
<line x1="519.5" y1="400" x2="519.5" y2="404" stroke="#8E1414"/>
<line x1="542.5" y1="31" x2="542.5" y2="402" stroke="#808080" stroke-dasharray="1 1"/>
<line x1="542.5" y1="30" x2="542.5" y2="33" stroke="#808080"/>
<line x1="542.5" y1="401" x2="542.5" y2="403" stroke="#808080"/>
<line x1="565.5" y1="31" x2="565.5" y2="402" stroke="#808080" stroke-dasharray="1 1"/>
<line x1="565.5" y1="30" x2="565.5" y2="33" stroke="#808080"/>
<line x1="565.5" y1="401" x2="565.5" y2="403" stroke="#808080"/>
<line x1="589.5" y1="31" x2="589.5" y2="402" stroke="#808080" stroke-dasharray="1 1"/>
<line x1="589.5" y1="30" x2="589.5" y2="33" stroke="#808080"/>
<line x1="589.5" y1="401" x2="589.5" y2="403" stroke="#808080"/>
<line x1="612.5" y1="31" x2="612.5" y2="402" stroke="#8E1414" stroke-dasharray="1 1"/>
<line x1="612.5" y1="29" x2="612.5" y2="33" stroke="#8E1414"/>
<line x1="612.5" y1="400" x2="612.5" y2="404" stroke="#8E1414"/>
<line x1="635.5" y1="31" x2="635.5" y2="402" stroke="#808080" stroke-dasharray="1 1"/>
<line x1="635.5" y1="30" x2="635.5" y2="33" stroke="#808080"/>
<line x1="635.5" y1="401" x2="635.5" y2="403" stroke="#808080"/>
<line x1="659.5" y1="31" x2="659.5" y2="402" stroke="#808080" stroke-dasharray="1 1"/>
<line x1="659.5" y1="30" x2="659.5" y2="33" stroke="#808080"/>
<line x1="659.5" y1="401" x2="659.5" y2="403" stroke="#808080"/>
<line x1="682.5" y1="31" x2="682.5" y2="402" stroke="#808080" stroke-dasharray="1 1"/>
<line x1="682.5" y1="30" x2="682.5" y2="33" stroke="#808080"/>
<line x1="682.5" y1="401" x2="682.5" y2="403" stroke="#808080"/>
<line x1="705.5" y1="31" x2="705.5" y2="402" stroke="#8E1414" stroke-dasharray="1 1"/>
<line x1="705.5" y1="29" x2="705.5" y2="33" stroke="#8E1414"/>
<line x1="705.5" y1="400" x2="705.5" y2="404" stroke="#8E1414"/>
<line x1="729.5" y1="31" x2="729.5" y2="402" stroke="#808080" stroke-dasharray="1 1"/>
<line x1="729.5" y1="30" x2="729.5" y2="33" stroke="#808080"/>
<line x1="729.5" y1="401" x2="729.5" y2="403" stroke="#808080"/>
<line x1="752.5" y1="31" x2="752.5" y2="402" stroke="#808080" stroke-dasharray="1 1"/>
<line x1="752.5" y1="30" x2="752.5" y2="33" stroke="#808080"/>
<line x1="752.5" y1="401" x2="752.5" y2="403" stroke="#808080"/>
<line x1="75" y1="31.5" x2="776" y2="31.5" stroke="#8E1414" stroke-dasharray="1 1"/>
<line x1="73" y1="31.5" x2="77" y2="31.5" stroke="#8E1414"/>
<line x1="774" y1="31.5" x2="778" y2="31.5" stroke="#8E1414"/>
<line x1="75" y1="49.5" x2="776" y2="49.5" stroke="#808080" stroke-dasharray="1 1"/>
<line x1="74" y1="49.5" x2="77" y2="49.5" stroke="#808080"/>
<line x1="774" y1="49.5" x2="777" y2="49.5" stroke="#808080"/>
<line x1="75" y1="68.5" x2="776" y2="68.5" stroke="#8E1414" stroke-dasharray="1 1"/>
<line x1="73" y1="68.5" x2="77" y2="68.5" stroke="#8E1414"/>
<line x1="774" y1="68.5" x2="778" y2="68.5" stroke="#8E1414"/>
<line x1="75" y1="86.5" x2="776" y2="86.5" stroke="#808080" stroke-dasharray="1 1"/>
<line x1="74" y1="86.5" x2="77" y2="86.5" stroke="#808080"/>
<line x1="774" y1="86.5" x2="777" y2="86.5" stroke="#808080"/>
<line x1="75" y1="105.5" x2="776" y2="105.5" stroke="#8E1414" stroke-dasharray="1 1"/>
<line x1="73" y1="105.5" x2="77" y2="105.5" stroke="#8E1414"/>
<line x1="774" y1="105.5" x2="778" y2="105.5" stroke="#8E1414"/>
<line x1="75" y1="124.5" x2="776" y2="124.5" stroke="#808080" stroke-dasharray="1 1"/>
<line x1="74" y1="124.5" x2="77" y2="124.5" stroke="#808080"/>
<line x1="774" y1="124.5" x2="777" y2="124.5" stroke="#808080"/>
<line x1="75" y1="142.5" x2="776" y2="142.5" stroke="#8E1414" stroke-dasharray="1 1"/>
<line x1="73" y1="142.5" x2="77" y2="142.5" stroke="#8E1414"/>
<line x1="774" y1="142.5" x2="778" y2="142.5" stroke="#8E1414"/>
<line x1="75" y1="160.5" x2="776" y2="160.5" stroke="#808080" stroke-dasharray="1 1"/>
<line x1="74" y1="160.5" x2="77" y2="160.5" stroke="#808080"/>
<line x1="774" y1="160.5" x2="777" y2="160.5" stroke="#808080"/>
<line x1="75" y1="179.5" x2="776" y2="179.5" stroke="#8E1414" stroke-dasharray="1 1"/>
<line x1="73" y1="179.5" x2="77" y2="179.5" stroke="#8E1414"/>
<line x1="774" y1="179.5" x2="778" y2="179.5" stroke="#8E1414"/>
<line x1="75" y1="197.5" x2="776" y2="197.5" stroke="#808080" stroke-dasharray="1 1"/>
<line x1="74" y1="197.5" x2="77" y2="197.5" stroke="#808080"/>
<line x1="774" y1="197.5" x2="777" y2="197.5" stroke="#808080"/>
<line x1="75" y1="216.5" x2="776" y2="216.5" stroke="#8E1414" stroke-dasharray="1 1"/>
<line x1="73" y1="216.5" x2="77" y2="216.5" stroke="#8E1414"/>
<line x1="774" y1="216.5" x2="778" y2="216.5" stroke="#8E1414"/>
<line x1="75" y1="234.5" x2="776" y2="234.5" stroke="#808080" stroke-dasharray="1 1"/>
<line x1="74" y1="234.5" x2="77" y2="234.5" stroke="#808080"/>
<line x1="774" y1="234.5" x2="777" y2="234.5" stroke="#808080"/>
<line x1="75" y1="253.5" x2="776" y2="253.5" stroke="#8E1414" stroke-dasharray="1 1"/>
<line x1="73" y1="253.5" x2="77" y2="253.5" stroke="#8E1414"/>
<line x1="774" y1="253.5" x2="778" y2="253.5" stroke="#8E1414"/>
<line x1="75" y1="271.5" x2="776" y2="271.5" stroke="#808080" stroke-dasharray="1 1"/>
<line x1="74" y1="271.5" x2="77" y2="271.5" stroke="#808080"/>
<line x1="774" y1="271.5" x2="777" y2="271.5" stroke="#808080"/>
<line x1="75" y1="290.5" x2="776" y2="290.5" stroke="#8E1414" stroke-dasharray="1 1"/>
<line x1="73" y1="290.5" x2="77" y2="290.5" stroke="#8E1414"/>
<line x1="774" y1="290.5" x2="778" y2="290.5" stroke="#8E1414"/>
<line x1="75" y1="309.5" x2="776" y2="309.5" stroke="#808080" stroke-dasharray="1 1"/>
<line x1="74" y1="309.5" x2="77" y2="309.5" stroke="#808080"/>
<line x1="774" y1="309.5" x2="777" y2="309.5" stroke="#808080"/>
<line x1="75" y1="327.5" x2="776" y2="327.5" stroke="#8E1414" stroke-dasharray="1 1"/>
<line x1="73" y1="327.5" x2="77" y2="327.5" stroke="#8E1414"/>
<line x1="774" y1="327.5" x2="778" y2="327.5" stroke="#8E1414"/>
<line x1="75" y1="345.5" x2="776" y2="345.5" stroke="#808080" stroke-dasharray="1 1"/>
<line x1="74" y1="345.5" x2="77" y2="345.5" stroke="#808080"/>
<line x1="774" y1="345.5" x2="777" y2="345.5" stroke="#808080"/>
<line x1="75" y1="364.5" x2="776" y2="364.5" stroke="#8E1414" stroke-dasharray="1 1"/>
<line x1="73" y1="364.5" x2="77" y2="364.5" stroke="#8E1414"/>
<line x1="774" y1="364.5" x2="778" y2="364.5" stroke="#8E1414"/>
<line x1="75" y1="382.5" x2="776" y2="382.5" stroke="#808080" stroke-dasharray="1 1"/>
<line x1="74" y1="382.5" x2="77" y2="382.5" stroke="#808080"/>
<line x1="774" y1="382.5" x2="777" y2="382.5" stroke="#808080"/>
<line x1="75" y1="401.5" x2="776" y2="401.5" stroke="#8E1414" stroke-dasharray="1 1"/>
<line x1="73" y1="401.5" x2="77" y2="401.5" stroke="#8E1414"/>
<line x1="774" y1="401.5" x2="778" y2="401.5" stroke="#8E1414"/>
</g>
<polygon points="779.5,398.5 779.5,404.5 785,401.5" fill="#FFFFFF" stroke="#FF0000" stroke-width="1"/>
<text x="340.00 347.00 354.00 361.00 368.00 375.00 382.00 389.00 396.00 403.00 410.00 417.00 424.00 431.00 438.00 445.00 452.00" y="18.60" font-size="13.10" font-weight="bold" fill="#000" text-anchor="middle" style="font-family:'Liberation Mono'" >Calar Alto Seeing</text>
<text x="53.50 58.62 65.54" y="36.00" font-size="10.10" font-weight="normal" fill="#000" text-anchor="middle" style="font-family:'Liberation Sans'" transform="rotate(0.04 59.52 36.00)" stroke="#000" stroke-width="0.2">2.0</text>
<text x="53.50 58.62 65.54" y="73.00" font-size="10.10" font-weight="normal" fill="#000" text-anchor="middle" style="font-family:'Liberation Sans'" transform="rotate(0.04 59.52 73.00)" stroke="#000" stroke-width="0.2">1.8</text>
<text x="53.50 58.62 65.54" y="110.00" font-size="10.10" font-weight="normal" fill="#000" text-anchor="middle" style="font-family:'Liberation Sans'" transform="rotate(0.04 59.52 110.00)" stroke="#000" stroke-width="0.2">1.6</text>
<text x="53.50 58.62 65.54" y="147.00" font-size="10.10" font-weight="normal" fill="#000" text-anchor="middle" style="font-family:'Liberation Sans'" transform="rotate(0.04 59.52 147.00)" stroke="#000" stroke-width="0.2">1.4</text>
<text x="53.50 58.62 65.54" y="184.00" font-size="10.10" font-weight="normal" fill="#000" text-anchor="middle" style="font-family:'Liberation Sans'" transform="rotate(0.04 59.52 184.00)" stroke="#000" stroke-width="0.2">1.2</text>
<text x="53.50 58.62 65.54" y="221.00" font-size="10.10" font-weight="normal" fill="#000" text-anchor="middle" style="font-family:'Liberation Sans'" transform="rotate(0.04 59.52 221.00)" stroke="#000" stroke-width="0.2">1.0</text>
<text x="53.50 58.62 65.54" y="258.00" font-size="10.10" font-weight="normal" fill="#000" text-anchor="middle" style="font-family:'Liberation Sans'" transform="rotate(0.04 59.52 258.00)" stroke="#000" stroke-width="0.2">0.8</text>
<text x="53.50 58.62 65.54" y="295.00" font-size="10.10" font-weight="normal" fill="#000" text-anchor="middle" style="font-family:'Liberation Sans'" transform="rotate(0.04 59.52 295.00)" stroke="#000" stroke-width="0.2">0.6</text>
<text x="53.50 58.62 65.54" y="332.00" font-size="10.10" font-weight="normal" fill="#000" text-anchor="middle" style="font-family:'Liberation Sans'" transform="rotate(0.04 59.52 332.00)" stroke="#000" stroke-width="0.2">0.4</text>
<text x="53.50 58.62 65.54" y="369.00" font-size="10.10" font-weight="normal" fill="#000" text-anchor="middle" style="font-family:'Liberation Sans'" transform="rotate(0.04 59.52 369.00)" stroke="#000" stroke-width="0.2">0.2</text>
<text x="53.50 58.62 65.54" y="406.00" font-size="10.10" font-weight="normal" fill="#000" text-anchor="middle" style="font-family:'Liberation Sans'" transform="rotate(0.04 59.52 406.00)" stroke="#000" stroke-width="0.2">0.0</text>
<text x="133.63 139.65 144.77 151.69 157.71" y="414.00" font-size="10.10" font-weight="normal" fill="#000" text-anchor="middle" style="font-family:'Liberation Sans'" transform="rotate(0.04 145.67 414.00)" stroke="#000" stroke-width="0.2">18:00</text>
<text x="226.96 232.98 238.10 245.02 251.04" y="414.00" font-size="10.10" font-weight="normal" fill="#000" text-anchor="middle" style="font-family:'Liberation Sans'" transform="rotate(0.04 239.00 414.00)" stroke="#000" stroke-width="0.2">20:00</text>
<text x="320.30 326.32 331.44 338.36 344.38" y="414.00" font-size="10.10" font-weight="normal" fill="#000" text-anchor="middle" style="font-family:'Liberation Sans'" transform="rotate(0.04 332.34 414.00)" stroke="#000" stroke-width="0.2">22:00</text>
<text x="413.63 419.65 424.77 431.69 437.71" y="414.00" font-size="10.10" font-weight="normal" fill="#000" text-anchor="middle" style="font-family:'Liberation Sans'" transform="rotate(0.04 425.67 414.00)" stroke="#000" stroke-width="0.2">00:00</text>
<text x="506.96 512.98 518.10 525.02 531.04" y="414.00" font-size="10.10" font-weight="normal" fill="#000" text-anchor="middle" style="font-family:'Liberation Sans'" transform="rotate(0.04 519.00 414.00)" stroke="#000" stroke-width="0.2">02:00</text>
<text x="600.29 606.31 611.43 618.35 624.38" y="414.00" font-size="10.10" font-weight="normal" fill="#000" text-anchor="middle" style="font-family:'Liberation Sans'" transform="rotate(0.04 612.33 414.00)" stroke="#000" stroke-width="0.2">04:00</text>
<text x="693.63 699.65 704.77 711.69 717.71" y="414.00" font-size="10.10" font-weight="normal" fill="#000" text-anchor="middle" style="font-family:'Liberation Sans'" transform="rotate(0.04 705.67 414.00)" stroke="#000" stroke-width="0.2">06:00</text>
<rect x="12.5" y="424.5" width="8" height="8" fill="#0000FF" stroke="#000" stroke-width="1" shape-rendering="crispEdges"/>
<text x="29.80 35.82 41.84 47.86 53.88 59.90" y="432.00" font-size="11.00" font-weight="normal" fill="#000" text-anchor="middle" style="font-family:'Liberation Mono'" stroke="#000" stroke-width="0.15">Seeing</text>
<g transform="translate(16.3,217) rotate(-90)"><text x="-30.10 -24.08 -18.06 -12.04 -6.02 0.00 6.02 12.04 18.06 24.08 30.10" y="0.00" font-size="11.00" font-weight="normal" fill="#000" text-anchor="middle" style="font-family:'Liberation Mono'" stroke="#000" stroke-width="0.15">Arc Seconds</text>
</g>
<g transform="translate(782,4.2) rotate(90) scale(0.861,1)"><text x="0" y="0" font-size="7.8" fill="#8A8A8A" style="font-family:'Liberation Mono'">RRDTOOL / TOBI OETIKER</text></g>
</svg>
</body></html>
